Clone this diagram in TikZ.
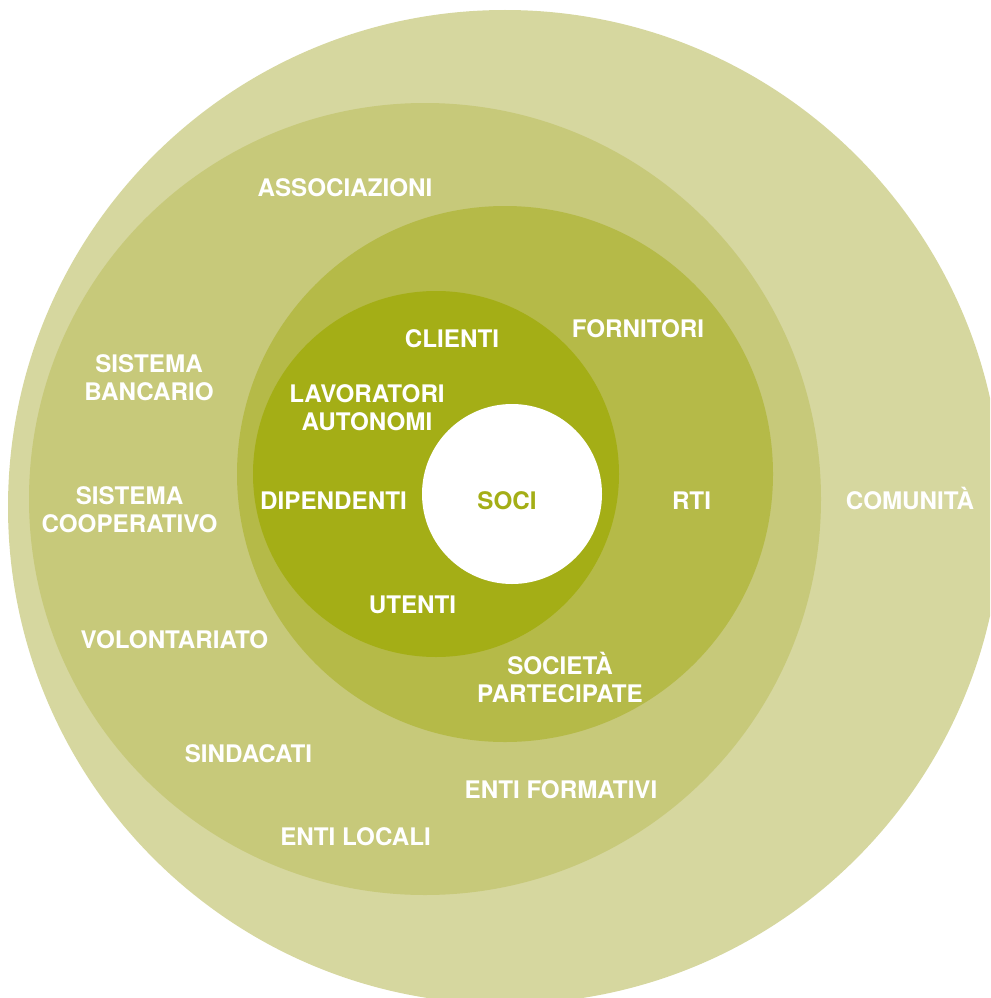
\documentclass[tikz,border=0pt]{standalone}
\usepackage{fontspec}
\setmainfont{TeX Gyre Heros}
\usetikzlibrary{positioning}

\definecolor{comunita}{HTML}{D6D79F}
\definecolor{esterno}{HTML}{C7C97A}
\definecolor{medio}{HTML}{B5BA48}
\definecolor{interno}{HTML}{A4AE16}

\begin{document}
\begin{tikzpicture}[x=1pt,y=-1pt,
    voce/.style={text=white,font=\fontsize{24.2}{28}\selectfont\bfseries,align=center,inner sep=0pt}]
    \useasboundingbox (0,0) rectangle (990,998);
    \clip (0,0) rectangle (990,998);

    % cerchi
    \fill[comunita] (505,507) circle[radius=497pt];
    \fill[esterno] (425,499) circle[radius=396pt];
    \fill[medio] (505,474) circle[radius=268pt];
    \fill[interno] (436,474) circle[radius=183pt];
    \fill[white] (512,494) circle[radius=90pt];

    % centro
    \node[voce,text=interno] (soci) at (507,500.5) {SOCI};

    % anello interno
    \node[voce] (clienti) at (452,338.5) {CLIENTI};
    \node[voce] (autonomi) at (367,407.5) {LAVORATORI\\AUTONOMI};
    \node[voce] (dipendenti) at (333.5,500.5) {DIPENDENTI};
    \node[voce] (utenti) at (412.5,604.5) {UTENTI};

    % anello medio
    \node[voce] (fornitori) at (638,328.5) {FORNITORI};
    \node[voce] (rti) at (691.5,500.5) {RTI};
    \node[voce] (partecipate) at (560,677) {SOCIETÀ\\PARTECIPATE};

    % anello esterno
    \node[voce] (associazioni) at (345,187.5) {ASSOCIAZIONI};
    \node[voce] (bancario) at (149,377.5) {SISTEMA\\BANCARIO};
    \node[voce] (cooperativo) at (129.5,509.5) {SISTEMA\\COOPERATIVO};
    \node[voce] (volontariato) at (174.5,639.5) {VOLONTARIATO};
    \node[voce] (sindacati) at (248.5,754) {SINDACATI};
    \node[voce] (locali) at (355.5,837) {ENTI LOCALI};
    \node[voce] (formativi) at (561,790) {ENTI FORMATIVI};

    % comunita
    \node[voce] (comunitanode) at (910,498.5) {COMUNITÀ};
\end{tikzpicture}
\end{document}
